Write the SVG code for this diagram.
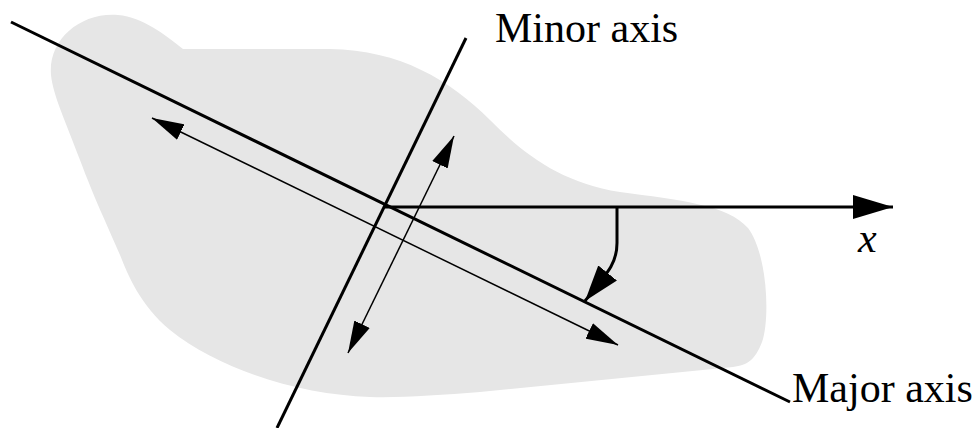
<svg xmlns="http://www.w3.org/2000/svg" width="977" height="428" viewBox="0 0 977 428">
<style>
.blob{fill:#e6e6e6;stroke:none}
.axis{stroke:#000;stroke-width:3;fill:none}
.thin{stroke:#000;stroke-width:1.5;fill:none}
.lbl{font-family:"Liberation Serif",serif;font-size:42px;fill:#000}
</style>
<defs>
<marker id="ah" markerUnits="userSpaceOnUse" markerWidth="32" markerHeight="18" viewBox="0 0 30 16" refX="30" refY="8" orient="auto-start-reverse">
<path d="M0,0 L30,8 L0,16 Z" fill="#000"/>
</marker>
<marker id="ahx" markerUnits="userSpaceOnUse" markerWidth="40" markerHeight="24" viewBox="0 0 37 22" refX="37" refY="11" orient="auto">
<path d="M0,0 L37,11 L0,22 Z" fill="#000"/>
</marker>
<marker id="ahc" markerUnits="userSpaceOnUse" markerWidth="36" markerHeight="24" viewBox="0 0 33 22" refX="33" refY="11" orient="auto">
<path d="M0,0 L33,11 L0,22 Z" fill="#000"/>
</marker>
</defs>
<g id="region">
<path class="blob" d="M51,75 C48,40 80,12 118,15 C143,17 165,35 183,49 L330,49 C400,50 450,80 490,120 C525,155 560,182 620,192 C680,200 728,205 748,228 C768,255 770,320 762,342 C755,360 748,365 733,367 L480,392 C440,395 400,398 370,397 C300,395 220,370 170,330 C140,305 128,275 120,255 C105,220 95,200 80,160 C65,120 53,95 51,75 Z"/>
</g>
<g id="connectors">
<line id="major-axis" class="axis" x1="11" y1="22" x2="790" y2="402"/>
<line id="minor-axis" class="axis" x1="466" y1="38" x2="277" y2="428"/>
<line id="x-axis" class="axis" x1="385" y1="207" x2="893" y2="207" stroke-width="2.5" marker-end="url(#ahx)"/>
<line id="major-span" class="thin" x1="152" y1="118" x2="618" y2="345" marker-start="url(#ah)" marker-end="url(#ah)"/>
<line id="minor-span" class="thin" x1="454" y1="136" x2="348" y2="353" marker-start="url(#ah)" marker-end="url(#ah)"/>
<path id="angle" class="axis" stroke-width="2.5" d="M617,207 L617,243 C617,262 610,270 585,301" marker-end="url(#ahc)"/>
</g>
<g id="labels">
<text class="lbl" x="495" y="42">Minor axis</text>
<text class="lbl" x="792" y="402">Major axis</text>
<text class="lbl" x="858" y="252" font-style="italic">x</text>
</g>
</svg>
